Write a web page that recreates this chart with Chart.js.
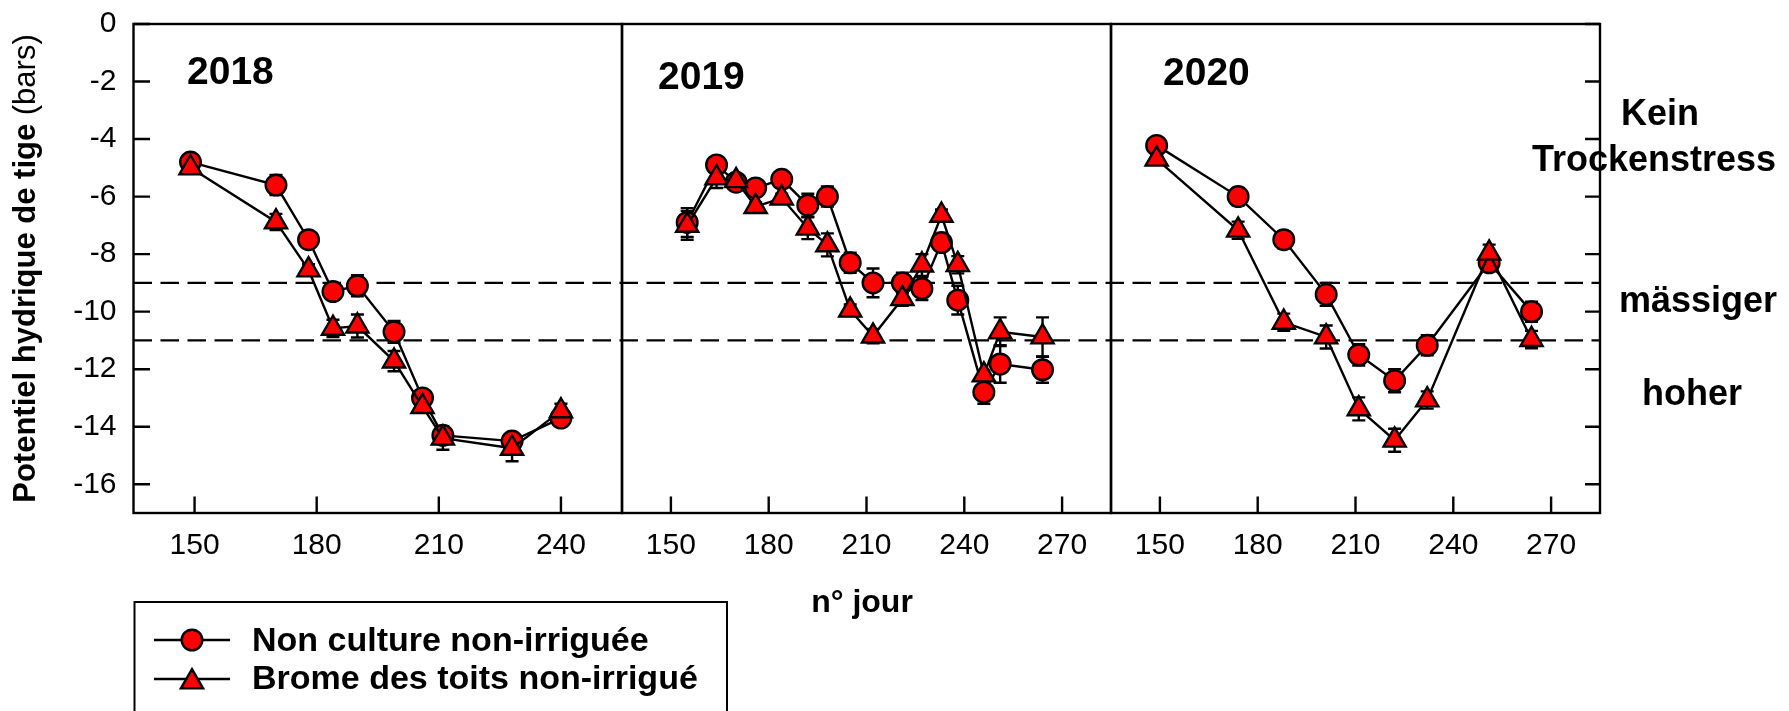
<!DOCTYPE html>
<html>
<head>
<meta charset="utf-8">
<script src="https://cdn.jsdelivr.net/npm/chart.js@4.4.0/dist/chart.umd.min.js"></script>
<style>
html,body{margin:0;padding:0;background:#fff;}
#wrap{position:relative;width:1789px;height:711px;overflow:hidden;background:#fff;}
#wrap canvas{position:absolute;left:0;top:0;}
</style>
</head>
<body>
<div id="wrap">
<canvas id="c1" width="1789" height="711"></canvas>
<canvas id="c2" width="1789" height="711"></canvas>
<canvas id="c3" width="1789" height="711"></canvas>
</div>
<script>
// ---------------- DATA ----------------
const seriesNames = ['Non culture non-irriguée', 'Brome des toits non-irrigué'];
const yTitleBold = 'Potentiel hydrique de tige';
const yTitleUnit = ' (bars)';
const xTitle = 'n° jour';
const yearLabels = ['2018', '2019', '2020'];
const stressLabels = ['Kein', 'Trockenstress', 'mässiger', 'hoher'];
const stressThresholds = [-9, -11];

const yTickValues = [-16, -14, -12, -10, -8, -6, -4, -2, 0];
const xTicks2018 = [150, 180, 210, 240];
const xTicks2019 = [150, 180, 210, 240, 270];
const xTicks2020 = [150, 180, 210, 240, 270];

const days2018 = [149, 170, 178, 184, 190, 199, 206, 211, 228, 240];
const nonCulture2018 = [-4.8, -5.6, -7.5, -9.3, -9.1, -10.7, -13.0, -14.3, -14.5, -13.7];
const nonCultureErr2018 = [0.15, 0.35, 0.15, 0.15, 0.37, 0.38, 0.15, 0.3, 0.2, 0.15];
const brome2018 = [-5.0, -6.88, -8.55, -10.58, -10.5, -11.72, -13.3, -14.4, -14.75, -13.45];
const bromeErr2018 = [0.2, 0.28, 0.2, 0.3, 0.4, 0.35, 0.15, 0.4, 0.45, 0.25];

const days2019 = [155, 164, 170, 176, 184, 192, 198, 205, 212, 221, 227, 233, 238, 246, 251, 264];
const nonCulture2019 = [-6.9, -4.9, -5.5, -5.7, -5.4, -6.3, -6.0, -8.3, -9.0, -9.0, -9.2, -7.6, -9.6, -12.8, -11.82, -12.02];
const nonCultureErr2019 = [0.5, 0.15, 0.15, 0.15, 0.15, 0.4, 0.35, 0.35, 0.5, 0.35, 0.4, 0.15, 0.5, 0.4, 0.65, 0.45];
const brome2019 = [-7.0, -5.35, -5.45, -6.35, -6.05, -7.1, -7.68, -9.95, -10.85, -9.55, -8.38, -6.65, -8.37, -12.2, -10.7, -10.88];
const bromeErr2019 = [0.5, 0.35, 0.2, 0.15, 0.15, 0.38, 0.4, 0.2, 0.25, 0.25, 0.38, 0.2, 0.3, 0.15, 0.5, 0.68];

const days2020 = [149, 174, 188, 201, 211, 222, 232, 251, 264];
const nonCulture2020 = [-4.22, -6.0, -7.5, -9.4, -11.5, -12.4, -11.17, -8.3, -10.0];
const nonCultureErr2020 = [0.15, 0.3, 0.3, 0.4, 0.37, 0.4, 0.35, 0.15, 0.35];
const brome2020 = [-4.7, -7.17, -10.37, -10.88, -13.38, -14.47, -13.07, -7.97, -10.97];
const bromeErr2020 = [0.15, 0.3, 0.3, 0.4, 0.4, 0.4, 0.3, 0.3, 0.3];

// ---------------- LAYOUT / STYLE ----------------
const FONT = "'Liberation Sans', Arial, Helvetica, sans-serif";
const W = 1789, H = 711;
const PLOT_TOP = 24, PLOT_BOTTOM = 513;
const Y_AXIS_W = 120, X_AXIS_H = 60;
const Y_MIN = -17, Y_MAX = 0;
const RED = '#ff0000';
const CIRCLE_R = 10.3, TRI_R = 12.8;
const LW = 2.4;

const panels = [
  {id: 'c1', year: yearLabels[0], days: days2018, a: nonCulture2018, aErr: nonCultureErr2018, b: brome2018, bErr: bromeErr2018,
   xMin: 135, xMax: 255, xTicks: xTicks2018, left: 133.5, right: 622, yLabels: true, leftTicks: true, rightTicks: false, yearX: 187, yearY: 84},
  {id: 'c2', year: yearLabels[1], days: days2019, a: nonCulture2019, aErr: nonCultureErr2019, b: brome2019, bErr: bromeErr2019,
   xMin: 135, xMax: 285, xTicks: xTicks2019, left: 622, right: 1111, yLabels: false, leftTicks: false, rightTicks: false, yearX: 658, yearY: 89},
  {id: 'c3', year: yearLabels[2], days: days2020, a: nonCulture2020, aErr: nonCultureErr2020, b: brome2020, bErr: bromeErr2020,
   xMin: 135, xMax: 285, xTicks: xTicks2020, left: 1111, right: 1600, yLabels: false, leftTicks: false, rightTicks: true, yearX: 1163, yearY: 85}
];
const GLOBAL_LEFT = panels[0].left;

const errorBarPlugin = {
  id: 'errorBars',
  beforeDatasetsDraw(chart) {
    const ctx = chart.ctx, xs = chart.scales.x, ys = chart.scales.y;
    ctx.save();
    ctx.strokeStyle = '#000';
    ctx.lineWidth = LW;
    ctx.setLineDash([]);
    chart.data.datasets.forEach(ds => {
      ds.data.forEach((pt, i) => {
        const e = ds.errors[i];
        const x = xs.getPixelForValue(pt.x);
        const y1 = ys.getPixelForValue(pt.y + e);
        const y2 = ys.getPixelForValue(pt.y - e);
        ctx.beginPath();
        ctx.moveTo(x, y1); ctx.lineTo(x, y2);
        ctx.moveTo(x - 6.5, y1); ctx.lineTo(x + 6.5, y1);
        ctx.moveTo(x - 6.5, y2); ctx.lineTo(x + 6.5, y2);
        ctx.stroke();
      });
    });
    ctx.restore();
  }
};

function framePlugin(p) {
  return {
    id: 'frame_' + p.id,
    beforeDatasetsDraw(chart) {
      const ctx = chart.ctx, a = chart.chartArea, xs = chart.scales.x, ys = chart.scales.y;
      ctx.save();
      ctx.strokeStyle = '#000';
      ctx.lineWidth = LW;
      // threshold dashed lines
      ctx.setLineDash([18.5, 8.5]);
      ctx.lineDashOffset = a.left - GLOBAL_LEFT;
      stressThresholds.forEach(v => {
        const y = ys.getPixelForValue(v);
        ctx.beginPath(); ctx.moveTo(a.left, y); ctx.lineTo(a.right, y); ctx.stroke();
      });
      ctx.setLineDash([]);
      // frame
      ctx.strokeRect(a.left, a.top, a.right - a.left, a.bottom - a.top);
      // inward ticks
      ctx.beginPath();
      p.xTicks.forEach(v => {
        const x = xs.getPixelForValue(v);
        ctx.moveTo(x, a.bottom); ctx.lineTo(x, a.bottom - 16.5);
      });
      if (p.leftTicks) yTickValues.forEach(v => {
        const y = ys.getPixelForValue(v);
        ctx.moveTo(a.left, y); ctx.lineTo(a.left + 16.5, y);
      });
      if (p.rightTicks) yTickValues.forEach(v => {
        const y = ys.getPixelForValue(v);
        ctx.moveTo(a.right, y); ctx.lineTo(a.right - 15, y);
      });
      ctx.stroke();
      // year label
      ctx.fillStyle = '#000';
      ctx.font = 'bold 39px ' + FONT;
      ctx.textAlign = 'left';
      ctx.textBaseline = 'alphabetic';
      ctx.fillText(p.year, p.yearX, p.yearY);
      ctx.restore();
    }
  };
}

function drawMarker(ctx, style, radius, x, y) {
  ctx.fillStyle = RED;
  ctx.strokeStyle = '#000';
  ctx.lineWidth = LW;
  if (Chart.helpers && Chart.helpers.drawPoint) {
    Chart.helpers.drawPoint(ctx, {pointStyle: style, radius: radius, borderWidth: LW, rotation: 0}, x, y);
  } else {
    ctx.beginPath();
    ctx.arc(x, y, radius, 0, Math.PI * 2);
    ctx.fill(); ctx.stroke();
  }
}

const globalTextPlugin = {
  id: 'globalText',
  afterDraw(chart) {
    const ctx = chart.ctx;
    ctx.save();
    ctx.fillStyle = '#000';
    ctx.setLineDash([]);
    // y axis title
    ctx.save();
    ctx.translate(35, (PLOT_TOP + PLOT_BOTTOM) / 2);
    ctx.rotate(-Math.PI / 2);
    ctx.textAlign = 'left';
    ctx.textBaseline = 'alphabetic';
    ctx.font = 'bold 31px ' + FONT;
    const w1 = ctx.measureText(yTitleBold).width;
    ctx.font = '31px ' + FONT;
    const w2 = ctx.measureText(yTitleUnit).width;
    const start = -(w1 + w2) / 2;
    ctx.font = 'bold 31px ' + FONT;
    ctx.fillText(yTitleBold, start, 0);
    ctx.font = '31px ' + FONT;
    ctx.fillText(yTitleUnit, start + w1, 0);
    ctx.restore();

    // x title
    ctx.font = 'bold 32px ' + FONT;
    ctx.textAlign = 'center';
    ctx.textBaseline = 'alphabetic';
    ctx.fillText(xTitle, 862, 612);

    // stress labels
    ctx.font = 'bold 36px ' + FONT;
    ctx.textAlign = 'left';
    ctx.fillText(stressLabels[0], 1621, 125);
    ctx.fillText(stressLabels[1], 1532, 170.5);
    ctx.fillText(stressLabels[2], 1619, 312);
    ctx.fillText(stressLabels[3], 1642, 405);

    // legend
    ctx.strokeStyle = '#000';
    ctx.lineWidth = 2;
    ctx.strokeRect(134.5, 602, 592.5, 130);
    const rows = [{y: 640, base: 651, style: 'circle', r: CIRCLE_R}, {y: 679, base: 689, style: 'triangle', r: TRI_R}];
    rows.forEach((row, i) => {
      ctx.strokeStyle = '#000';
      ctx.lineWidth = LW;
      ctx.beginPath(); ctx.moveTo(154, row.y); ctx.lineTo(230, row.y); ctx.stroke();
      drawMarker(ctx, row.style, row.r, 192, row.y + (row.style === 'triangle' ? 3 : 0));
      ctx.fillStyle = '#000';
      ctx.font = 'bold 34px ' + FONT;
      ctx.textAlign = 'left';
      ctx.textBaseline = 'alphabetic';
      ctx.fillText(seriesNames[i], 252, row.base);
    });
    ctx.restore();
  }
};

function makeChart(p, isLast) {
  const lineDs = (label, vals, errs, style, radius, order) => ({
    label: label,
    data: p.days.map((d, i) => ({x: d, y: vals[i]})),
    errors: errs,
    borderColor: '#000',
    borderWidth: LW,
    backgroundColor: RED,
    pointStyle: style,
    pointRadius: radius,
    pointHoverRadius: radius,
    pointBackgroundColor: RED,
    pointBorderColor: '#000',
    pointBorderWidth: LW,
    tension: 0,
    fill: false,
    order: order
  });
  const plugins = [framePlugin(p), errorBarPlugin];
  if (isLast) plugins.push(globalTextPlugin);
  return new Chart(document.getElementById(p.id), {
    type: 'line',
    data: {
      datasets: [
        lineDs(seriesNames[0], p.a, p.aErr, 'circle', CIRCLE_R, 1),
        lineDs(seriesNames[1], p.b, p.bErr, 'triangle', TRI_R, 0)
      ]
    },
    options: {
      responsive: false,
      animation: false,
      devicePixelRatio: 1,
      events: [],
      layout: {
        autoPadding: false,
        padding: {
          left: p.yLabels ? p.left - Y_AXIS_W : p.left,
          right: W - p.right,
          top: PLOT_TOP,
          bottom: H - PLOT_BOTTOM - X_AXIS_H
        }
      },
      plugins: {legend: {display: false}, tooltip: {enabled: false}},
      scales: {
        x: {
          type: 'linear', position: 'bottom', min: p.xMin, max: p.xMax,
          grid: {display: false, drawTicks: false},
          border: {display: false},
          ticks: {font: {family: FONT, size: 30}, color: '#000', padding: 15, maxRotation: 0, autoSkip: false},
          afterBuildTicks: s => { s.ticks = p.xTicks.map(v => ({value: v})); },
          afterFit: s => { s.height = X_AXIS_H; s.paddingLeft = 0; s.paddingRight = 0; }
        },
        y: {
          type: 'linear', position: 'left', display: p.yLabels, min: Y_MIN, max: Y_MAX,
          grid: {display: false, drawTicks: false},
          border: {display: false},
          ticks: {font: {family: FONT, size: 30}, color: '#000', padding: 17, autoSkip: false},
          afterBuildTicks: s => { s.ticks = yTickValues.map(v => ({value: v})); },
          afterFit: s => { s.width = p.yLabels ? Y_AXIS_W : 0; s.paddingTop = 0; s.paddingBottom = 0; }
        }
      }
    },
    plugins: plugins
  });
}

panels.forEach((p, i) => makeChart(p, i === panels.length - 1));
</script>
</body>
</html>
